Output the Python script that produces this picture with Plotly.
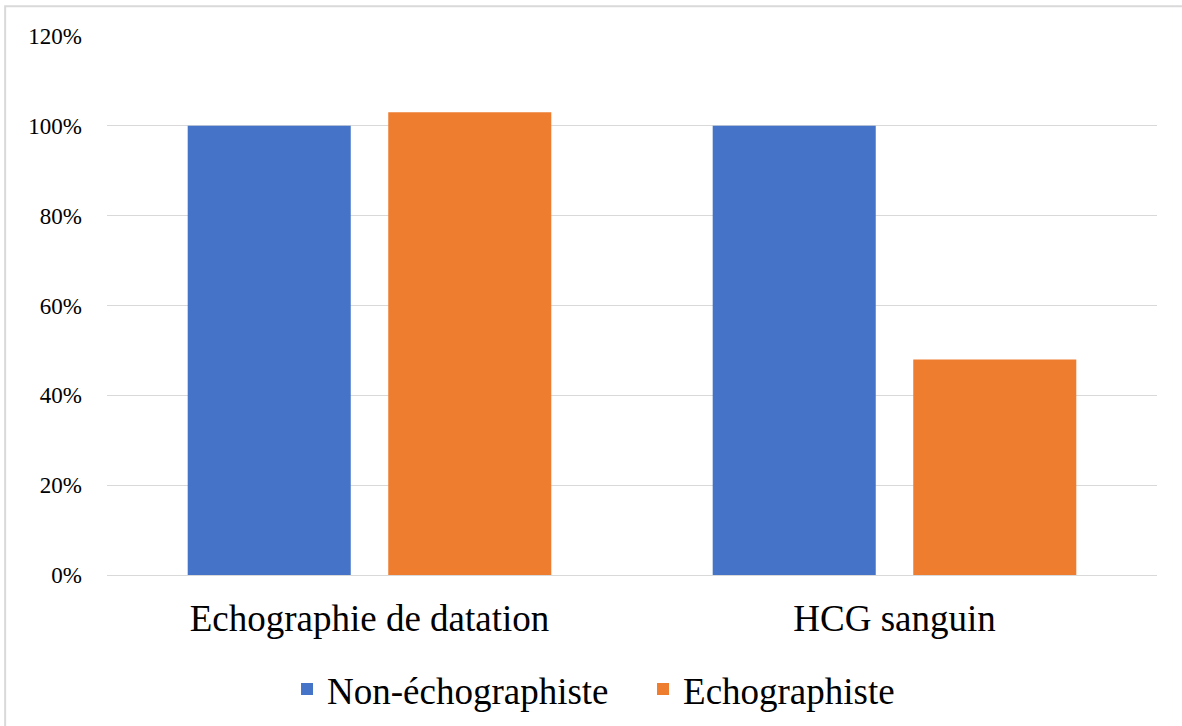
import plotly.graph_objects as go

categories = ["Echographie de datation", "HCG sanguin"]
non_echographiste = [1.00, 1.00]
echographiste = [1.03, 0.48]
series_names = ["Non-échographiste", "Echographiste"]
y_ticks = [0, 0.2, 0.4, 0.6, 0.8, 1.0, 1.2]
y_tick_labels = ["0%", "20%", "40%", "60%", "80%", "100%", "120%"]

FONT = "Liberation Serif"

fig = go.Figure()
fig.add_trace(go.Bar(x=categories, y=non_echographiste, name=series_names[0],
                     marker=dict(color="#4473C8", line=dict(width=0))))
fig.add_trace(go.Bar(x=categories, y=echographiste, name=series_names[1],
                     marker=dict(color="#EE7D30", line=dict(width=0))))

fig.update_layout(
    width=1182, height=726,
    margin=dict(l=107, r=25, t=36, b=151, autoexpand=False),
    paper_bgcolor="white", plot_bgcolor="white",
    barmode="group", bargap=0.236, bargroupgap=0.187,
    font=dict(family=FONT, color="#000000"),
    showlegend=True,
    legend=dict(orientation="h", x=0.5105, xanchor="center", y=-0.155, yanchor="top",
                font=dict(size=37, family=FONT), itemwidth=30, traceorder="normal",
                entrywidth=311, entrywidthmode="pixels",
                bgcolor="rgba(0,0,0,0)"),
    shapes=[dict(type="rect", xref="paper", yref="paper",
                 x0=-0.097, x1=1.05, y0=-0.3, y1=1.055,
                 line=dict(color="#D9D9D9", width=2), fillcolor="rgba(0,0,0,0)", layer="below")],
)
fig.update_yaxes(range=[0, 1.2], tickvals=y_ticks, ticktext=y_tick_labels,
                 showgrid=True, gridcolor="#D9D9D9", gridwidth=1,
                 zeroline=True, zerolinecolor="#D9D9D9", zerolinewidth=1,
                 showline=False, tickfont=dict(size=23, family=FONT),
                 ticklabelstandoff=24)
fig.update_xaxes(showgrid=False, showline=False, tickfont=dict(size=37, family=FONT),
                 ticklabelstandoff=18)

fig.write_html("out.html", config={"displayModeBar": False},
               post_script="document.body.style.margin='0px';")
